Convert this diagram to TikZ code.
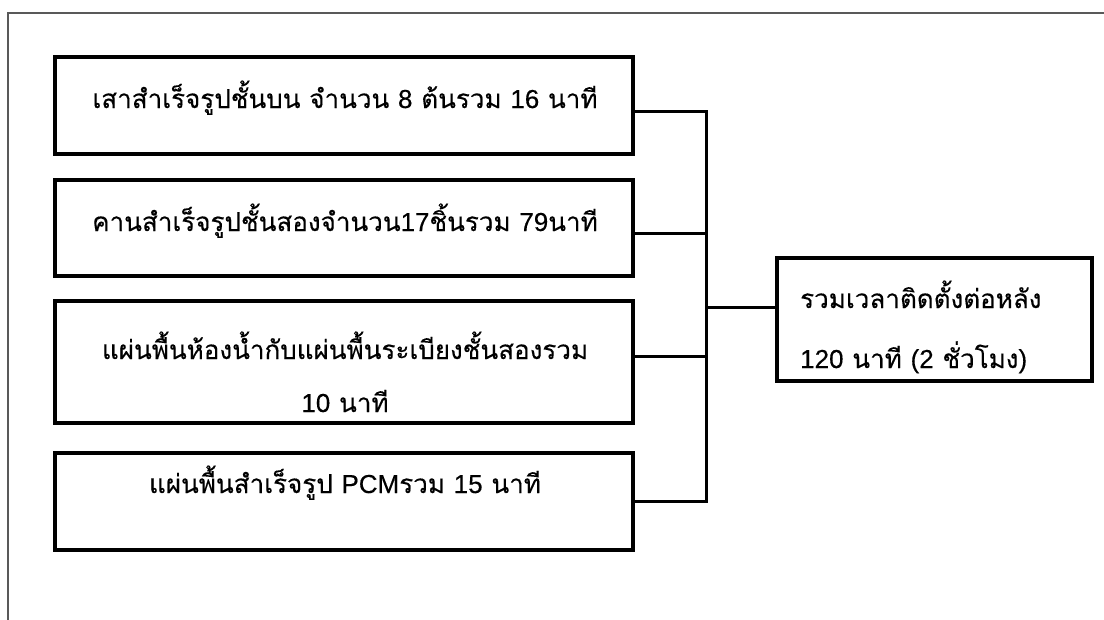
\documentclass[tikz,border=0pt]{standalone}
\usepackage{fontspec}
\newfontfamily\thai[Script=Thai,FakeBold=0.25]{Loma}
\newfontfamily\lat[FakeBold=0.25]{Liberation Sans}
\usetikzlibrary{calc}
\begin{document}
\begin{tikzpicture}[x=1pt,y=-1pt,
  box/.style={draw=black, line width=3.2pt, fill=white, inner sep=0pt},
  txt/.style={font=\thai\fontsize{26}{30}\selectfont, anchor=base, inner sep=0pt},
  rtxt/.style={txt, anchor=base west},
  link/.style={draw=black, line width=3pt, line join=miter},
  frame/.style={draw=black!65, line width=2.2pt}]
\useasboundingbox (0,0) rectangle (1104,619);
\fill[white] (0,0) rectangle (1104,619);
\draw[frame] (8,640) -- (8,13) -- (1130,13);

\node[box, minimum width=578pt, minimum height=97pt] (b1) at (344,105.5) {};
\node[box, minimum width=578pt, minimum height=96pt] (b2) at (344,228) {};
\node[box, minimum width=578pt, minimum height=122pt] (b3) at (344,362) {};
\node[box, minimum width=578pt, minimum height=97pt] (b4) at (344,501.5) {};
\node[box, minimum width=315pt, minimum height=123pt] (r) at (934.5,319.5) {};

\node[txt] (t1) at (345,108) {เสาสำเร็จรูปชั้นบน จำนวน {\lat 8} ต้นรวม {\lat 16} นาที};
\node[txt] (t2) at (345,231) {คานสำเร็จรูปชั้นสองจำนวน{\lat 17}ชิ้นรวม {\lat 79}นาที};
\node[txt] (t3a) at (345,359) {แผ่นพื้นห้องน้ำกับแผ่นพื้นระเบียงชั้นสองรวม};
\node[txt] (t3b) at (345,412) {{\lat 10} นาที};
\node[txt] (t4) at (345,493) {แผ่นพื้นสำเร็จรูป {\lat PCM}รวม {\lat 15} นาที};
\node[rtxt] (tr1) at (800,308) {รวมเวลาติดตั้งต่อหลัง};
\node[rtxt] (tr2) at (800,368) {{\lat 120} นาที {\lat (2} ชั่วโมง{\lat )}};

\coordinate (j1) at (706,111);
\coordinate (j2) at (706,233);
\coordinate (j3) at (706,356);
\coordinate (j4) at (706,501);
\coordinate (jr) at (706,307);
\draw[link] (b1.east |- j1) -- (j1) -- (j4) -- (b4.east |- j4);
\draw[link] (b2.east |- j2) -- (j2);
\draw[link] (b3.east |- j3) -- (j3);
\draw[link] (jr) -- (r.west |- jr);
\end{tikzpicture}
\end{document}
